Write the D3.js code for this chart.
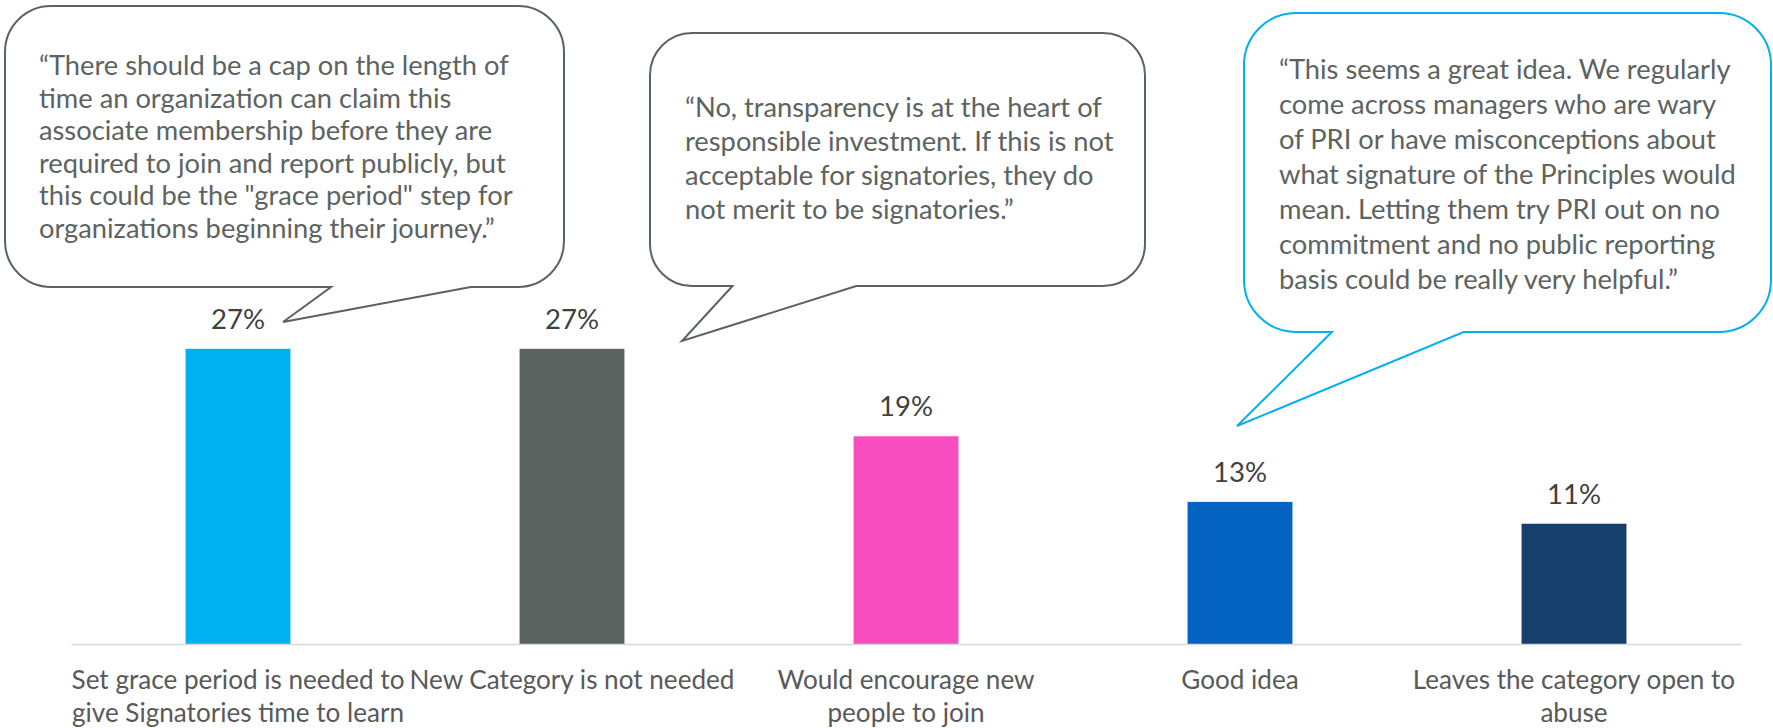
<!DOCTYPE html>
<html><head><meta charset="utf-8">
<script src="https://cdn.jsdelivr.net/npm/d3@7"></script>
<style>html,body{margin:0;padding:0;background:#fff;} svg{display:block;}</style>
</head><body><svg id="chart" width="1773" height="728"></svg>
<script>
// ---- data ----
const categories = [
  "Set grace period is needed to\ngive Signatories time to learn",
  "New Category is not needed",
  "Would encourage new\npeople to join",
  "Good idea",
  "Leaves the category open to\nabuse"
];
const values = [27, 27, 19, 13, 11];
const valueLabels = ["27%", "27%", "19%", "13%", "11%"];
const quote1 = [
  "\u201cThere should be a cap on the length of",
  "time an organization can claim this",
  "associate membership before they are",
  "required to join and report publicly, but",
  "this could be the \"grace period\" step for",
  "organizations beginning their journey.\u201d"
];
const quote2 = [
  "\u201cNo, transparency is at the heart of",
  "responsible investment. If this is not",
  "acceptable for signatories, they do",
  "not merit to be signatories.\u201d"
];
const quote3 = [
  "\u201cThis seems a great idea. We regularly",
  "come across managers who are wary",
  "of PRI or have misconceptions about",
  "what signature of the Principles would",
  "mean. Letting them try PRI out on no",
  "commitment and no public reporting",
  "basis could be really very helpful.\u201d"
];

// ---- styles ----
const barColors = ["#00b0f0", "#5b6360", "#f84dbf", "#0563c1", "#173f6b"];
const FONT = "Lato, 'Open Sans', 'DejaVu Sans', sans-serif";

const svg = d3.select("#chart");

function fitSize(str, target) {
  const t = svg.append("text").attr("font-family", FONT).attr("font-size", 100).text(str);
  const w = t.node().getComputedTextLength();
  t.remove();
  return 100 * target / w;
}
const quoteSize = fitSize(quote1[0], 470);
const catSize = fitSize("Set grace period is needed to", 333);
const valSize = fitSize("27%", 54);

// ---- scales ----
const x = d3.scaleBand().domain(categories).range([71, 1741]).paddingInner(0.686).paddingOuter(0.343);
const y = d3.scaleLinear().domain([0, 30]).range([644, 316]);

// ---- bars ----
svg.append("g").selectAll("rect").data(values).join("rect")
  .attr("x", (d, i) => x(categories[i]))
  .attr("y", d => y(d))
  .attr("width", x.bandwidth())
  .attr("height", d => y(0) - y(d))
  .attr("fill", (d, i) => barColors[i]);

// ---- axis ----
const axis = svg.append("g").attr("transform", `translate(0,${y(0)})`)
  .call(d3.axisBottom(x).tickSize(0).tickSizeOuter(0));
axis.select(".domain").attr("stroke", "#d9d9d9").attr("stroke-width", 1.6);
axis.selectAll(".tick text").each(function(d) {
  const t = d3.select(this);
  t.text(null).attr("y", 0).attr("dy", null)
    .attr("font-family", FONT).attr("font-size", catSize).attr("fill", "#595959");
  d.split("\n").forEach((line, k) => {
    t.append("tspan").attr("x", 0).attr("y", 45 + k * 33).text(line);
  });
});

// ---- value labels ----
svg.append("g").selectAll("text").data(values).join("text")
  .attr("x", (d, i) => x(categories[i]) + x.bandwidth() / 2)
  .attr("y", d => y(d) - 20)
  .attr("text-anchor", "middle")
  .attr("font-family", FONT).attr("font-size", valSize).attr("fill", "#404040")
  .text((d, i) => valueLabels[i]);

// ---- callout bubbles ----
function bubblePath(b) {
  const {x0, y0, w, h, r, t0, t1, tip} = b;
  const bx0 = x0 + w * t0, bx1 = x0 + w * t1, bot = y0 + h;
  return `M${x0 + r},${y0} H${x0 + w - r} A${r},${r} 0 0 1 ${x0 + w},${y0 + r} V${bot - r} ` +
    `A${r},${r} 0 0 1 ${x0 + w - r},${bot} H${bx1} L${tip[0]},${tip[1]} L${bx0},${bot} H${x0 + r} ` +
    `A${r},${r} 0 0 1 ${x0},${bot - r} V${y0 + r} A${r},${r} 0 0 1 ${x0 + r},${y0} Z`;
}
const bubbles = [
  {x0: 5, y0: 6, w: 559, h: 281, r: 46, t0: 7/12, t1: 10/12, tip: [283, 322], stroke: "#5b6360",
   lines: quote1, tx: 39, ty: 75, lh: 32.5},
  {x0: 650, y0: 33, w: 495, h: 253, r: 42, t0: 2/12, t1: 5/12, tip: [682, 341], stroke: "#5b6360",
   lines: quote2, tx: 685, ty: 117, lh: 34},
  {x0: 1244, y0: 13, w: 527, h: 319, r: 52, t0: 2/12, t1: 5/12, tip: [1237, 426], stroke: "#00b0f0",
   lines: quote3, tx: 1279, ty: 79, lh: 35}
];
const bg = svg.append("g").selectAll("g").data(bubbles).join("g");
bg.append("path").attr("d", bubblePath).attr("fill", "#fff")
  .attr("stroke", d => d.stroke).attr("stroke-width", 2).attr("stroke-linejoin", "miter");
bg.append("text").attr("font-family", FONT).attr("font-size", quoteSize).attr("fill", "#5d6360")
  .each(function(b) {
    const t = d3.select(this);
    b.lines.forEach((line, k) => {
      t.append("tspan").attr("x", b.tx).attr("y", b.ty + k * b.lh).text(line);
    });
  });
</script>
</body></html>
